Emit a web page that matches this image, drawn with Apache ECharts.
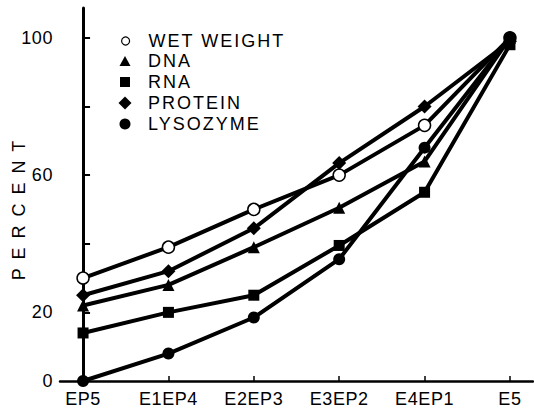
<!DOCTYPE html>
<html>
<head>
<meta charset="utf-8">
<script src="https://cdn.jsdelivr.net/npm/echarts@6/dist/echarts.min.js"></script>
<style>
  html, body { margin: 0; padding: 0; background: #fff; }
  #chart { width: 534px; height: 413px; }
  #chart text[style*="LegendFont"], #chart text[font-family*="LegendFont"] { letter-spacing: 2px; }
  #chart text[style*="NameFont"], #chart text[font-family*="NameFont"] { letter-spacing: 2px; }
  #chart text[style*="TickFont"], #chart text[font-family*="TickFont"] { letter-spacing: 0.6px; }
</style>
</head>
<body>
<div id="chart"></div>
<script>
const categories = ['EP5', 'E1EP4', 'E2EP3', 'E3EP2', 'E4EP1', 'E5'];
const wetWeight = [30, 39, 50, 60, 74.5, 100];
const dna = [22, 28, 39, 50.5, 64, 100];
const rna = [14, 20, 25, 39.5, 55, 98];
const protein = [25, 32, 44.5, 63.5, 80, 99];
const lysozyme = [0, 8, 18.5, 35.5, 68, 100];
const yTicks = [0, 20, 40, 60, 80, 100];
const yLabels = [0, 20, 60, 100];
const seriesNames = ['WET WEIGHT', 'DNA', 'RNA', 'PROTEIN', 'LYSOZYME'];

const toPts = arr => arr.map((v, i) => [i, v]);
const LEGEND_FONT = 'LegendFont, "Liberation Sans", Arial, sans-serif';
const NAME_FONT = 'NameFont, "Liberation Sans", Arial, sans-serif';
const TICK_FONT = 'TickFont, "Liberation Sans", Arial, sans-serif';

function mk(name, data, symbol, size, fill, z) {
  return {
    name: name,
    type: 'line',
    z: z,
    data: toPts(data),
    symbol: symbol,
    symbolSize: size,
    lineStyle: { color: '#000', width: 4 },
    itemStyle: fill === 'open'
      ? { color: '#fff', borderColor: '#000', borderWidth: 1.5 }
      : { color: '#000', borderWidth: 0 },
    emphasis: { disabled: true },
    animation: false,
    clip: false
  };
}

// one legend block per row so each icon can have its own size
const legendIcons = [
  { icon: 'circle',   w: 8,  h: 8,  cy: 40,  style: { color: '#fff', borderColor: '#000', borderWidth: 1.2 } },
  { icon: 'triangle', w: 11, h: 10, cy: 60,  style: { color: '#000', borderWidth: 0 } },
  { icon: 'rect',     w: 10, h: 10, cy: 81,  style: { color: '#000', borderWidth: 0 } },
  { icon: 'diamond',  w: 13, h: 13, cy: 102, style: { color: '#000', borderWidth: 0 } },
  { icon: 'circle',   w: 11, h: 11, cy: 123, style: { color: '#000', borderWidth: 0 } }
];
const ICON_CX = 125, TEXT_X = 148, TEXT_H = 16;
const legends = legendIcons.map((d, i) => ({
  orient: 'vertical',
  left: ICON_CX - d.w / 2,
  top: d.cy - Math.max(d.h, TEXT_H) / 2,
  padding: 0,
  itemWidth: d.w,
  itemHeight: d.h,
  selectedMode: false,
  textStyle: {
    fontFamily: LEGEND_FONT, fontSize: 18, color: '#000',
    padding: [0, 0, 0, TEXT_X - (ICON_CX + d.w / 2 + 5)]
  },
  data: [{ name: seriesNames[i], icon: d.icon, itemStyle: d.style }]
}));

const chart = echarts.init(document.getElementById('chart'), null, { renderer: 'svg' });
chart.setOption({
  animation: false,
  grid: { left: 60, right: 1, top: 8, bottom: 32, containLabel: false, outerBoundsMode: 'none' },
  legend: legends,
  xAxis: {
    type: 'value',
    min: -0.27,
    max: 5.27,
    splitLine: { show: false },
    axisLine: { lineStyle: { color: '#000', width: 2.5 } },
    axisTick: { inside: true, length: 5, lineStyle: { color: '#000', width: 1.5 }, customValues: [0, 1, 2, 3, 4, 5] },
    axisLabel: {
      customValues: [0, 1, 2, 3, 4, 5],
      formatter: v => categories[Math.round(v)],
      fontFamily: TICK_FONT, fontSize: 18, color: '#000', margin: 9
    }
  },
  yAxis: {
    type: 'value',
    min: 0,
    max: 108.7,
    name: 'P E R C E N T',
    nameLocation: 'middle',
    nameGap: 32,
    nameRotate: 90,
    nameMoveOverlap: false,
    nameTextStyle: { fontFamily: NAME_FONT, fontSize: 18, color: '#000', padding: [0, 0, 0, -30] },
    splitLine: { show: false },
    axisLine: { show: true, lineStyle: { color: '#000', width: 3 } },
    axisTick: { show: true, inside: true, length: 7, lineStyle: { color: '#000', width: 2 }, customValues: yTicks },
    axisLabel: { customValues: yLabels, fontFamily: TICK_FONT, fontSize: 18, color: '#000', margin: 7 }
  },
  series: [
    mk(seriesNames[0], wetWeight, 'circle', 12, 'open', 2),
    mk(seriesNames[1], dna, 'triangle', 12, 'fill', 5),
    mk(seriesNames[2], rna, 'rect', 11, 'fill', 2),
    mk(seriesNames[3], protein, 'diamond', 14, 'fill', 4),
    mk(seriesNames[4], lysozyme, 'circle', 12, 'fill', 3)
  ]
});
</script>
</body>
</html>
